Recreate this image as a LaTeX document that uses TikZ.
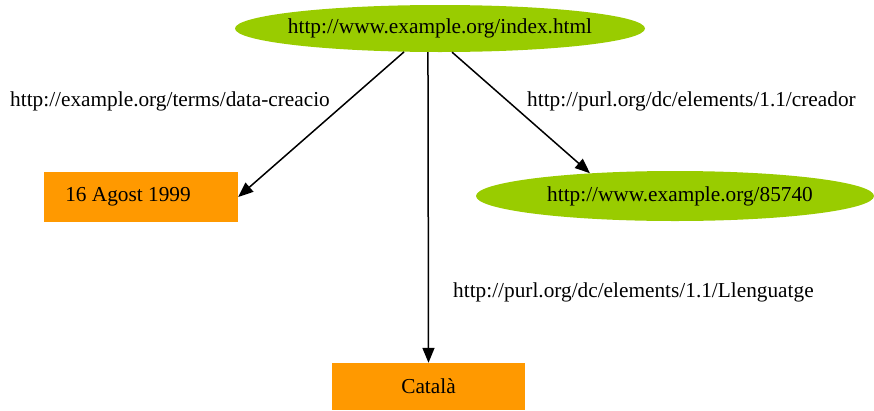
\documentclass[tikz,border=0pt]{standalone}
\usepackage{fontspec}
\setmainfont{Liberation Serif}
\usetikzlibrary{shapes.geometric,arrows.meta}
\definecolor{resgreen}{HTML}{99CC00}
\definecolor{litorange}{HTML}{FF9900}
\tikzset{
  resource/.style={ellipse, fill=resgreen, inner sep=0pt, font=\fontsize{21.3}{24}\selectfont},
  literal/.style={rectangle, fill=litorange, inner sep=0pt, font=\fontsize{21.3}{24}\selectfont},
  prop/.style={-{Triangle[length=15pt,width=12pt]}, line width=1.5pt, black},
  proplabel/.style={anchor=west, inner sep=0pt, font=\fontsize{21.3}{24}\selectfont}
}
\begin{document}
\begin{tikzpicture}[x=1pt,y=-1pt]
\useasboundingbox (0,0) rectangle (874,410);
% resources
\node[resource, minimum width=410pt, minimum height=47pt] (idx) at (440,28.5)
  {\makebox[0pt]{http://www.example.org/index.html}};
\node[resource, minimum width=398pt, minimum height=50pt] (auth) at (675,196)
  {\makebox[0pt]{\kern10pt http://www.example.org/85740}};
% literals
\node[literal, minimum width=194pt, minimum height=50pt] (date) at (141,197)
  {\makebox[0pt]{\kern-26pt 16 Agost 1999}};
\node[literal, minimum width=193pt, minimum height=47pt] (lang) at (428.5,386.5)
  {\makebox[0pt]{Català}};
% properties
\draw[prop] (idx.213) -- (date.east);
\draw[prop] (idx.243.4) -- (lang.north);
\draw[prop] (idx.297.6) -- (auth.165.5);
% property labels
\node[proplabel] (l1) at (10,101) {http://example.org/terms/data-creacio};
\node[proplabel] (l2) at (527,101) {http://purl.org/dc/elements/1.1/creador};
\node[proplabel] (l3) at (453,292) {http://purl.org/dc/elements/1.1/Llenguatge};
\end{tikzpicture}
\end{document}
